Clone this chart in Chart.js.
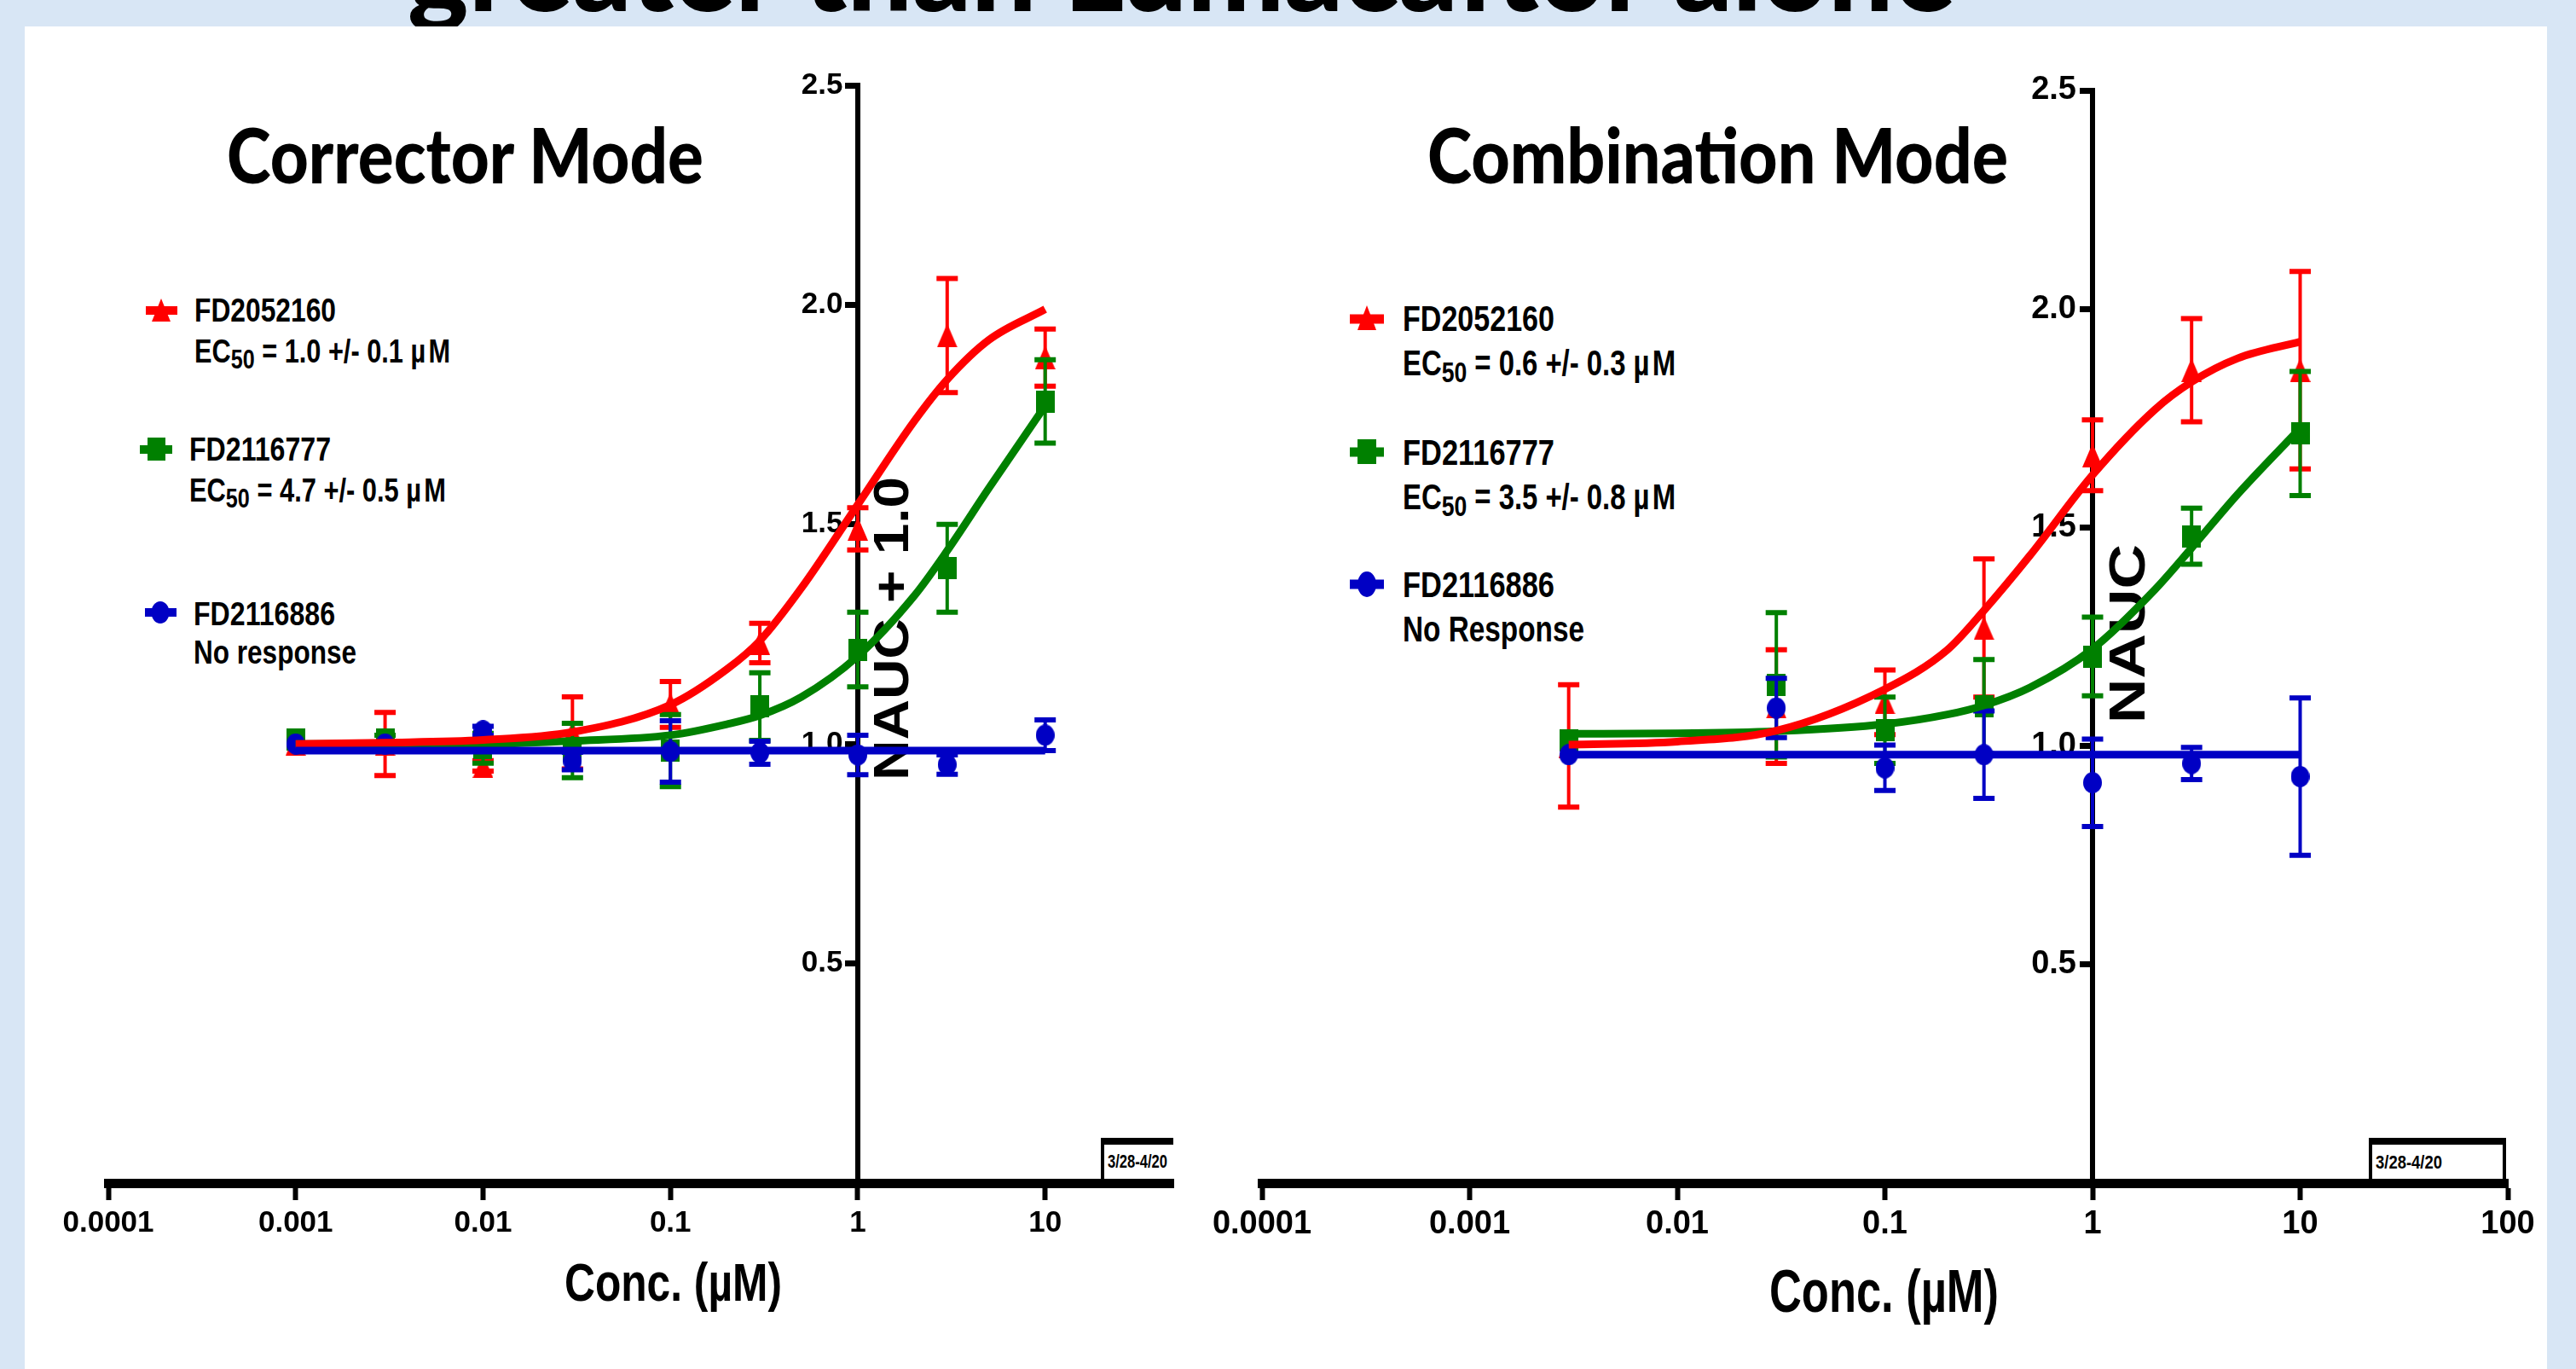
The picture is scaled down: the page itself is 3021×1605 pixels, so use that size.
<!DOCTYPE html>
<html>
<head>
<meta charset="utf-8">
<title>Corrector / Combination Mode</title>
<script src="https://cdn.jsdelivr.net/npm/chart.js@4.4.1/dist/chart.umd.min.js"></script>
<style>
  html, body { margin: 0; padding: 0; }
  body { width: 3021px; height: 1605px; position: relative; overflow: hidden; background: #d8e6f5; }
  #deco { position: absolute; left: 0; top: 0; }
  canvas { position: absolute; top: 0; }
  #corrector { left: 0; }
  #combination { left: 1400px; }
  .narrow { font-family: 'Liberation Sans', Arial, sans-serif; font-weight: 700; }
  .head { font-family: Lato, 'Open Sans', sans-serif; font-weight: 900; }
</style>
</head>
<body>

<svg id="deco" width="3021" height="1605" xmlns="http://www.w3.org/2000/svg">
  <!-- slide title, mostly cut off by the top edge -->
  <text class="head" x="478" y="13" font-size="138" textLength="1815" lengthAdjust="spacingAndGlyphs">greater than Lumacaftor alone</text>
  <rect x="29" y="31" width="2958" height="1574" fill="#fff"/>

  <text class="head" x="266" y="215" font-size="90" textLength="559" lengthAdjust="spacingAndGlyphs">Corrector Mode</text>
  <text class="head" x="1674" y="215" font-size="90" textLength="681" lengthAdjust="spacingAndGlyphs">Combination Mode</text>

  <!-- legend, corrector -->
  <g class="narrow" font-size="38">
    <line x1="171" x2="208" y1="364" y2="364" stroke="#f00" stroke-width="10"/>
    <polygon points="189,350 200,377 178,377" fill="#f00"/>
    <text x="228" y="377" textLength="166" lengthAdjust="spacingAndGlyphs">FD2052160</text>
    <text x="228" y="425" textLength="300" lengthAdjust="spacingAndGlyphs">EC<tspan font-size="31" dy="7">50</tspan><tspan dy="-7"> = 1.0 +/- 0.1 µ</tspan><tspan dx="4">M</tspan></text>

    <line x1="164" x2="202" y1="527" y2="527" stroke="#008000" stroke-width="10"/>
    <rect x="173" y="513" width="21" height="27" fill="#008000"/>
    <text x="222" y="540" textLength="166" lengthAdjust="spacingAndGlyphs">FD2116777</text>
    <text x="222" y="588" textLength="301" lengthAdjust="spacingAndGlyphs">EC<tspan font-size="31" dy="7">50</tspan><tspan dy="-7"> = 4.7 +/- 0.5 µ</tspan><tspan dx="4">M</tspan></text>

    <line x1="170" x2="207" y1="718" y2="718" stroke="#0000c4" stroke-width="10"/>
    <ellipse cx="188" cy="718" rx="10.5" ry="13" fill="#0000c4"/>
    <text x="227" y="733" textLength="166" lengthAdjust="spacingAndGlyphs">FD2116886</text>
    <text x="227" y="778" textLength="191" lengthAdjust="spacingAndGlyphs">No response</text>
  </g>

  <!-- legend, combination -->
  <g class="narrow" font-size="42">
    <line x1="1583" x2="1623" y1="374" y2="374" stroke="#f00" stroke-width="11"/>
    <polygon points="1603,358 1614,387 1592,387" fill="#f00"/>
    <text x="1645" y="388" textLength="178" lengthAdjust="spacingAndGlyphs">FD2052160</text>
    <text x="1645" y="440" textLength="320" lengthAdjust="spacingAndGlyphs">EC<tspan font-size="34" dy="8">50</tspan><tspan dy="-8"> = 0.6 +/- 0.3 µ</tspan><tspan dx="4">M</tspan></text>

    <line x1="1583" x2="1623" y1="530" y2="530" stroke="#008000" stroke-width="11"/>
    <rect x="1592" y="515" width="22" height="29" fill="#008000"/>
    <text x="1645" y="545" textLength="178" lengthAdjust="spacingAndGlyphs">FD2116777</text>
    <text x="1645" y="597" textLength="320" lengthAdjust="spacingAndGlyphs">EC<tspan font-size="34" dy="8">50</tspan><tspan dy="-8"> = 3.5 +/- 0.8 µ</tspan><tspan dx="4">M</tspan></text>

    <line x1="1583" x2="1623" y1="685" y2="685" stroke="#0000c4" stroke-width="11"/>
    <ellipse cx="1603" cy="685" rx="11" ry="15" fill="#0000c4"/>
    <text x="1645" y="700" textLength="178" lengthAdjust="spacingAndGlyphs">FD2116886</text>
    <text x="1645" y="752" textLength="213" lengthAdjust="spacingAndGlyphs">No Response</text>
  </g>

  <!-- y axis titles, to the right of the axis -->
  <text class="narrow" transform="translate(1065,737) rotate(-90)" text-anchor="middle" font-size="58" textLength="356" lengthAdjust="spacingAndGlyphs">NAUC + 1.0</text>
  <text class="narrow" transform="translate(2515,743) rotate(-90)" text-anchor="middle" font-size="60" textLength="210" lengthAdjust="spacingAndGlyphs">NAUC</text>

  <!-- x axis titles -->
  <text class="narrow" x="662" y="1525" font-size="63" textLength="255" lengthAdjust="spacingAndGlyphs">Conc. (µM)</text>
  <text class="narrow" x="2075" y="1538" font-size="70" textLength="269" lengthAdjust="spacingAndGlyphs">Conc. (µM)</text>

  <!-- date stamps -->
  <rect x="1291" y="1334" width="85" height="8" fill="#000"/>
  <rect x="1291" y="1334" width="4" height="50" fill="#000"/>
  <text class="narrow" x="1299" y="1369" font-size="22" font-weight="400" textLength="70" lengthAdjust="spacingAndGlyphs">3/28-4/20</text>
  <rect x="2780" y="1336" width="157" height="48" fill="#fff" stroke="#000" stroke-width="4"/>
  <rect x="2778" y="1334" width="161" height="8" fill="#000"/>
  <text class="narrow" x="2786" y="1370" font-size="22" font-weight="400" textLength="78" lengthAdjust="spacingAndGlyphs">3/28-4/20</text>
</svg>

<canvas id="corrector" width="1400" height="1605"></canvas>
<canvas id="combination" width="1621" height="1605"></canvas>

<script>
// axes
const xTickVals = [0.0001, 0.001, 0.01, 0.1, 1, 10, 100];
const xTickLabels = ['0.0001', '0.001', '0.01', '0.1', '1', '10', '100'];
const yTickVals = [0.5, 1, 1.5, 2, 2.5];
const yTickLabels = ['0.5', '1.0', '1.5', '2.0', '2.5'];

// Corrector mode: measured points (mean, +/- error)
const corrConc = [0.001, 0.003, 0.01, 0.03, 0.1, 0.3, 1, 3, 10];
const corrRed = [1.00, 1.00, 0.95, 1.025, 1.09, 1.23, 1.49, 1.93, 1.88];
const corrRedErr = [0, 0.072, 0.012, 0.082, 0.052, 0.045, 0.048, 0.13, 0.065];
const corrGreen = [1.01, 1.01, 0.99, 0.985, 0.985, 1.085, 1.215, 1.40, 1.78];
const corrGreenErr = [0, 0.01, 0.034, 0.062, 0.082, 0.077, 0.085, 0.10, 0.095];
const corrBlue = [1.00, 1.00, 1.03, 0.961, 0.983, 0.98, 0.975, 0.953, 1.02];
const corrBlueErr = [0, 0, 0.01, 0.02, 0.07, 0.026, 0.045, 0.022, 0.035];

// Corrector mode: fitted curves
const corrFitConc = [0.001, 0.003, 0.01, 0.03, 0.1, 0.2, 0.3, 0.5, 1, 2, 3, 5, 10];
const corrRedFit = [1.00, 1.003, 1.009, 1.027, 1.089, 1.17, 1.235, 1.355, 1.545, 1.735, 1.83, 1.92, 1.99];
const corrGreenFit = [1.00, 1.00, 1.00, 1.007, 1.02, 1.045, 1.065, 1.107, 1.20, 1.337, 1.44, 1.582, 1.77];
const corrBlueFitConc = [0.001, 10];
const corrBlueFit = [0.985, 0.985];

// Combination mode: measured points
const combConc = [0.003, 0.03, 0.1, 0.3, 1, 3, 10];
const combRed = [1.00, 1.09, 1.10, 1.27, 1.665, 1.86, 1.86];
const combRedErr = [0.14, 0.13, 0.074, 0.158, 0.081, 0.118, 0.226];
const combGreen = [1.013, 1.14, 1.036, 1.09, 1.205, 1.48, 1.715];
const combGreenErr = [0, 0.165, 0.076, 0.108, 0.09, 0.064, 0.142];
const combBlue = [0.98, 1.087, 0.95, 0.98, 0.916, 0.96, 0.93];
const combBlueErr = [0, 0.068, 0.052, 0.1, 0.1, 0.037, 0.18];

// Combination mode: fitted curves
const combFitConc = [0.003, 0.01, 0.03, 0.1, 0.2, 0.3, 0.5, 1, 2, 3, 5, 10];
const combRedFit = [1.003, 1.01, 1.035, 1.13, 1.22, 1.31, 1.436, 1.62, 1.77, 1.833, 1.887, 1.925];
const combGreenFit = [1.028, 1.029, 1.034, 1.05, 1.072, 1.093, 1.134, 1.222, 1.358, 1.453, 1.576, 1.727];
const combBlueFitConc = [0.003, 10];
const combBlueFit = [0.98, 0.98];

const RED = '#ff0000', GREEN = '#008000', BLUE = '#0000c4';
const FONT = "'Liberation Sans', Arial, sans-serif";

// GraphPad symbols are a bit taller than wide, so draw them as little images
function symbol(shape, color, w, h) {
  const c = document.createElement('canvas');
  c.width = w; c.height = h;
  const g = c.getContext('2d');
  g.fillStyle = color;
  g.beginPath();
  if (shape === 'tri') { g.moveTo(w / 2, 0); g.lineTo(w, h); g.lineTo(0, h); g.closePath(); }
  else if (shape === 'sq') g.rect(0, 0, w, h);
  else g.ellipse(w / 2, h / 2, w / 2, h / 2, 0, 0, Math.PI * 2);
  g.fill();
  return c;
}

const pts = (xs, ys) => xs.map((x, i) => ({ x, y: ys[i] }));

// vertical error bars with caps, drawn just before each point set
const errorBars = {
  id: 'errorBars',
  beforeDatasetDraw(chart, args) {
    const ds = chart.data.datasets[args.index];
    if (!ds.errors) return;
    const { ctx, scales: { x, y } } = chart;
    ctx.save();
    ctx.strokeStyle = ds.borderColor;
    ds.data.forEach((p, i) => {
      const e = ds.errors[i];
      if (!e) return;
      const px = x.getPixelForValue(p.x);
      const hi = y.getPixelForValue(p.y + e);
      const lo = y.getPixelForValue(p.y - e);
      ctx.lineWidth = 4;
      ctx.beginPath(); ctx.moveTo(px, hi); ctx.lineTo(px, lo); ctx.stroke();
      ctx.lineWidth = 6;
      ctx.beginPath();
      ctx.moveTo(px - 12.5, hi); ctx.lineTo(px + 12.5, hi);
      ctx.moveTo(px - 12.5, lo); ctx.lineTo(px + 12.5, lo);
      ctx.stroke();
    });
    ctx.restore();
  }
};

function pointSet(data, errors, color, style, order) {
  return { data, errors, borderColor: color, backgroundColor: color, pointStyle: style,
           pointRadius: 12, showLine: false, order };
}
function curve(data, color, order) {
  return { data, borderColor: color, borderWidth: 9, pointRadius: 0, showLine: true,
           cubicInterpolationMode: 'monotone', fill: false, order };
}

function makeChart(id, c) {
  return new Chart(document.getElementById(id), {
    type: 'scatter',
    data: { datasets: c.datasets },
    options: {
      responsive: false,
      animation: false,
      devicePixelRatio: 1,
      events: [],
      layout: { autoPadding: false, padding: c.padding },
      plugins: { legend: { display: false }, tooltip: { enabled: false } },
      scales: {
        x: {
          type: 'logarithmic', min: 0.0001, max: c.xMax,
          afterBuildTicks: s => { s.ticks = xTickVals.filter(v => v <= c.xMax).map(v => ({ value: v })); },
          afterFit: s => { s.height = 200; },
          border: { display: true, color: '#000', width: 11 },
          grid: { display: true, drawOnChartArea: false, drawTicks: true, tickLength: 20, tickWidth: 6, tickColor: '#000' },
          ticks: { color: '#000', font: { family: FONT, size: c.xFont, weight: 'bold' }, padding: 6,
                   maxRotation: 0, minRotation: 0, autoSkip: false,
                   callback: v => xTickLabels[xTickVals.indexOf(v)] }
        },
        y: {
          position: { x: 1 }, min: 0, max: 2.5,
          afterBuildTicks: s => { s.ticks = yTickVals.map(v => ({ value: v })); },
          border: { display: true, color: '#000', width: 6 },
          grid: { display: true, drawOnChartArea: false, drawTicks: true, tickLength: 12, tickWidth: 7, tickColor: '#000' },
          // labels of a centred axis sit on the line, so an en space keeps them clear of the tick
          ticks: { color: '#000', font: { family: FONT, size: c.yFont, weight: 'bold' }, padding: 0,
                   callback: v => yTickLabels[yTickVals.indexOf(v)] + '\u2002' }
        }
      }
    },
    plugins: [errorBars]
  });
}

const tri = symbol('tri', RED, 24, 28);
const sq = symbol('sq', GREEN, 22, 26);
const dot = symbol('dot', BLUE, 22, 25);

makeChart('corrector', {
  xMax: 48.3, xFont: 35, yFont: 35,
  padding: { left: 127, right: 24, top: 100, bottom: 18 },
  datasets: [
    pointSet(pts(corrConc, corrRed), corrRedErr, RED, tri, 6),
    pointSet(pts(corrConc, corrGreen), corrGreenErr, GREEN, sq, 5),
    pointSet(pts(corrConc, corrBlue), corrBlueErr, BLUE, dot, 4),
    curve(pts(corrFitConc, corrGreenFit), GREEN, 3),
    curve(pts(corrFitConc, corrRedFit), RED, 2),
    curve(pts(corrBlueFitConc, corrBlueFit), BLUE, 1)
  ]
});

makeChart('combination', {
  xMax: 100, xFont: 38, yFont: 38,
  padding: { left: 80, right: 80, top: 106, bottom: 18 },
  datasets: [
    pointSet(pts(combConc, combRed), combRedErr, RED, tri, 6),
    pointSet(pts(combConc, combGreen), combGreenErr, GREEN, sq, 5),
    pointSet(pts(combConc, combBlue), combBlueErr, BLUE, dot, 4),
    curve(pts(combFitConc, combGreenFit), GREEN, 3),
    curve(pts(combFitConc, combRedFit), RED, 2),
    curve(pts(combBlueFitConc, combBlueFit), BLUE, 1)
  ]
});
</script>
</body>
</html>
